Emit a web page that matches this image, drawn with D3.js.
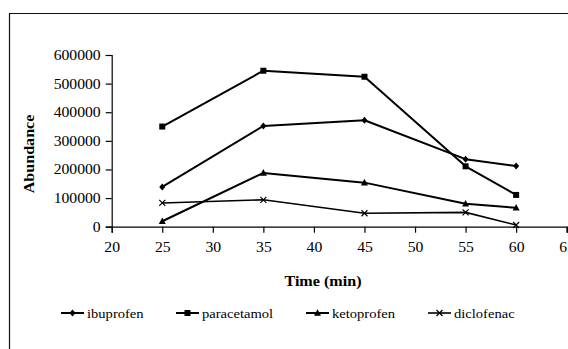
<!DOCTYPE html>
<html><head><meta charset="utf-8">
<script src="https://cdn.jsdelivr.net/npm/d3@7/dist/d3.min.js"></script>
<style>html,body{margin:0;padding:0;background:#fff;overflow:hidden}svg{display:block}text{font-family:"Liberation Serif","Times New Roman",serif;fill:#000}</style>
</head><body>
<svg id="c" width="568" height="349"></svg>
<script>
const times = [25, 35, 45, 55, 60];
const ibuprofen   = [139000, 352000, 372000, 236000, 212000];
const paracetamol = [350000, 545000, 524000, 211000, 111000];
const ketoprofen  = [19000, 188000, 154000, 80000, 66000];
const diclofenac  = [83000, 94000, 47000, 50000, 6000];
const seriesNames = ["ibuprofen", "paracetamol", "ketoprofen", "diclofenac"];
const markers = ["diamond", "square", "triangle", "cross"];
const xTicks = [20, 25, 30, 35, 40, 45, 50, 55, 60, 65];
const yTicks = [0, 100000, 200000, 300000, 400000, 500000, 600000];
const xTitle = "Time (min)";
const yTitle = "Abundance";

const data = [ibuprofen, paracetamol, ketoprofen, diclofenac];
const svg = d3.select("#c");

// frame
svg.append("path").attr("d", "M9.5,349 V13.5 H568").attr("fill", "none").attr("stroke", "#111").attr("stroke-width", 1.2);

const x = d3.scaleLinear().domain([20, 65]).range([111.7, 566.7]);
const y = d3.scaleLinear().domain([0, 600000]).range([226.7, 55]);

function stretch(sel, f) {
  sel.each(function () {
    const w = this.getComputedTextLength();
    this.setAttribute("textLength", (w * f).toFixed(2));
    this.setAttribute("lengthAdjust", "spacingAndGlyphs");
  });
}

const yAxis = svg.append("g").attr("transform", `translate(${x(20)},0)`)
  .call(d3.axisLeft(y).tickValues(yTicks).tickFormat(d3.format("d")).tickSize(6).tickPadding(5));
const xAxis = svg.append("g").attr("transform", `translate(0,${y(0)})`)
  .call(d3.axisBottom(x).tickValues(xTicks).tickFormat(d3.format("d")).tickSize(6).tickPadding(9));
[yAxis, xAxis].forEach(a => {
  a.selectAll("path,line").attr("stroke", "#000").attr("stroke-width", 1.2);
  a.selectAll("text").style("font-size", "14px").attr("fill", "#000").call(stretch, 1.12);
});

svg.append("text").attr("x", 323).attr("y", 286).attr("text-anchor", "middle")
  .style("font-size", "14px").style("font-weight", "bold").text(xTitle).call(stretch, 1.15);
svg.append("text").attr("transform", "translate(34,154) rotate(-90)").attr("text-anchor", "middle")
  .style("font-size", "14px").style("font-weight", "bold").text(yTitle).call(stretch, 1.15);

function drawMarker(g, type, cx, cy) {
  if (type === "diamond") {
    g.append("path").attr("d", `M${cx},${cy - 3.5}L${cx + 3},${cy}L${cx},${cy + 3.5}L${cx - 3},${cy}Z`).attr("fill", "#000");
  } else if (type === "square") {
    g.append("rect").attr("x", cx - 3).attr("y", cy - 3).attr("width", 6).attr("height", 6).attr("fill", "#000");
  } else if (type === "triangle") {
    g.append("path").attr("d", `M${cx},${cy - 3.8}L${cx + 3.5},${cy + 2.8}L${cx - 3.5},${cy + 2.8}Z`).attr("fill", "#000");
  } else {
    g.append("path").attr("d", `M${cx - 3},${cy - 3}L${cx + 3},${cy + 3}M${cx + 3},${cy - 3}L${cx - 3},${cy + 3}`).attr("stroke", "#000").attr("stroke-width", 1.2);
  }
}

const line = d3.line().x((d, i) => x(times[i])).y(d => y(d));
data.forEach((vals, k) => {
  const g = svg.append("g");
  g.append("path").attr("d", line(vals)).attr("fill", "none").attr("stroke", "#000")
    .attr("stroke-width", k === 3 ? 1.6 : 2).attr("stroke-linejoin", "round");
  vals.forEach((v, i) => drawMarker(g, markers[k], x(times[i]), y(v)));
});

// legend
const legX = [61, 176, 306, 428];
seriesNames.forEach((name, k) => {
  const g = svg.append("g");
  const ly = 313;
  g.append("line").attr("x1", legX[k]).attr("x2", legX[k] + 23).attr("y1", ly).attr("y2", ly)
    .attr("stroke", "#000").attr("stroke-width", k === 3 ? 1.6 : 2);
  drawMarker(g, markers[k], legX[k] + 11.5, ly);
  g.append("text").attr("x", legX[k] + 26).attr("y", ly + 4.5).style("font-size", "13px").text(name).call(stretch, 1.12);
});
</script>
</body></html>
